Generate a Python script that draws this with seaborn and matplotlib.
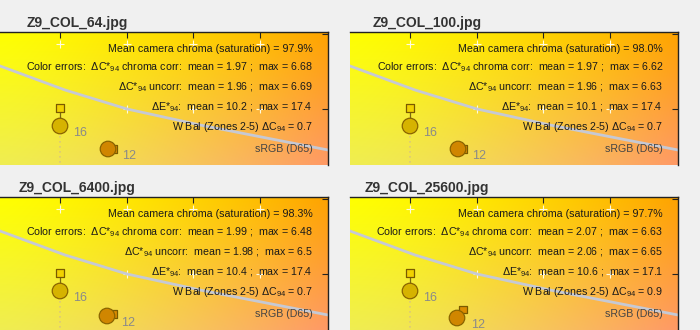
import numpy as np
import pandas as pd
import matplotlib
matplotlib.use("Agg")
import matplotlib.pyplot as plt
import seaborn as sns

sns.set_theme(style="white")
plt.rcParams['font.family'] = ['Liberation Sans', 'DejaVu Sans']
plt.rcParams['mathtext.fontset'] = 'custom'
plt.rcParams['mathtext.rm'] = 'Liberation Sans'
plt.rcParams['mathtext.it'] = 'Liberation Sans:italic'
plt.rcParams['mathtext.default'] = 'regular'

# ---------------- data ----------------
titles = ["Z9_COL_64.jpg", "Z9_COL_100.jpg", "Z9_COL_6400.jpg", "Z9_COL_25600.jpg"]
chroma_sat = ["97.9", "98.0", "98.3", "97.7"]
dc_corr_mean = ["1.97", "1.97", "1.99", "2.07"]
dc_corr_max = ["6.68", "6.62", "6.48", "6.63"]
dc_unc_mean = ["1.96", "1.96", "1.98", "2.06"]
dc_unc_max = ["6.69", "6.63", "6.5", "6.65"]
de_mean = ["10.2", "10.1", "10.4", "10.6"]
de_max = ["17.4", "17.4", "17.4", "17.1"]
wbal = ["0.7", "0.7", "0.7", "0.9"]

# gamut boundary (sRGB) in a*, b*
gamut_a = [-25, -18, 1.5, 20.1, 42.0, 80.4, 90]
gamut_b = [75.5, 72.9, 65.7, 60.0, 55.2, 47.7, 45.8]

# patch 16 and 12: ideal (square) and measured (circle), per panel
ideal16_a = [0.0, 0.0, 0.0, 0.0]
ideal16_b = [60.3, 60.3, 60.3, 60.3]
meas16_a = [0.0, 0.0, 0.0, 0.0]
meas16_b = [54.9, 54.9, 54.9, 54.9]
ideal12_a = [15.9, 15.9, 15.9, 15.9]
ideal12_b = [48.0, 48.0, 48.0, 49.3]
meas12_a = [14.4, 14.4, 14.1, 14.1]
meas12_b = [48.0, 48.0, 47.4, 46.8]
patch_labels = ["16", "12"]

grid_a = [0, 20, 40, 60]
grid_b = [79.5, 60]
xticks = [0, 20, 40, 60]
yticks = [60, 82.5]

XLIM = (-18.0, 80.4)
YLIM = (43.2, 83.1)

# ---------------- figure ----------------
W, H = 700, 330
fig = plt.figure(figsize=(7, 3.3), dpi=100)
fig.patch.set_facecolor("#f0f0f0")

panel_px = [(0, 32), (350, 32), (0, 197), (350, 197)]  # left, top in px
ax_w, ax_h = 328, 133

# gradient image
nu, nv = 200, 120
u = np.linspace(0, 1, nu)[None, :]
v = np.linspace(0, 1, nv)[:, None]
TL = np.array([1.0, 1.0, 0.0]); TR = np.array([1.0, 0.64, 0.0])
BL = np.array([0.94, 0.93, 0.32]); BR = np.array([1.0, 0.60, 0.40])
uu = (u ** 1.4)[..., None]
vv = v[..., None]
top = TL * (1 - uu) + TR * uu
bot = BL * (1 - uu) + BR * uu
img = bot * (1 - vv) + top * vv
img = np.clip(img, 0, 1)

def lines_for(i):
    return [
        f"Mean camera chroma (saturation) = {chroma_sat[i]}%",
        f"Color errors:  ΔC*$_{{94}}$ chroma corr:  mean = {dc_corr_mean[i]} ;  max = {dc_corr_max[i]}",
        f"ΔC*$_{{94}}$ uncorr:  mean = {dc_unc_mean[i]} ;  max = {dc_unc_max[i]}",
        f"ΔE*$_{{94}}$:  mean = {de_mean[i]} ;  max = {de_max[i]}",
        f"W Bal (Zones 2-5) ΔC$_{{94}}$ = {wbal[i]}",
    ]

line_offsets = [17, 35, 55, 75, 95]

for i, (lpx, tpx) in enumerate(panel_px):
    ax = fig.add_axes([lpx / W, 1 - (tpx + ax_h) / H, ax_w / W, ax_h / H])
    ax.imshow(img, extent=[XLIM[0], XLIM[1], YLIM[0], YLIM[1]], origin="lower",
              aspect="auto", zorder=0, interpolation="bilinear")

    # grid plus markers
    gp = pd.DataFrame([(a, b) for a in grid_a for b in grid_b], columns=["a", "b"])
    ax.scatter(gp["a"], gp["b"], marker="+", s=30, color="#fffbe0", linewidths=0.8, zorder=1)

    gdf = pd.DataFrame({"a": gamut_a, "b": gamut_b})
    sns.lineplot(data=gdf, x="a", y="b", ax=ax, color="#c6c9d4", lw=2.0, sort=False, zorder=2)

    # dotted line from patch 16 downward
    ax.plot([meas16_a[i], meas16_a[i]], [meas16_b[i], YLIM[0] - 5], ls=(0, (1, 2)),
            color="#dcc878", lw=1.2, zorder=2)
    # connector ideal->measured
    ax.plot([ideal16_a[i], meas16_a[i]], [ideal16_b[i], meas16_b[i]], color="#7a6a10",
            lw=0.9, zorder=3)
    ax.plot([ideal12_a[i], meas12_a[i]], [ideal12_b[i], meas12_b[i]], color="#7a5000",
            lw=0.9, zorder=3)

    sq = pd.DataFrame({"a": [ideal16_a[i], ideal12_a[i]], "b": [ideal16_b[i], ideal12_b[i]],
                       "p": patch_labels})
    sns.scatterplot(data=sq, x="a", y="b", hue="p", palette=["#f2d200", "#dc8c00"],
                    marker="s", s=30, edgecolor="#7a5a00", linewidth=0.9, ax=ax,
                    legend=False, zorder=4)
    ci = pd.DataFrame({"a": [meas16_a[i], meas12_a[i]], "b": [meas16_b[i], meas12_b[i]],
                       "p": patch_labels})
    sns.scatterplot(data=ci, x="a", y="b", hue="p", palette=["#d6b300", "#d08600"],
                    marker="o", s=125, edgecolor="#8a6400", linewidth=0.9, ax=ax,
                    legend=False, zorder=5)

    ax.text(meas16_a[i] + 6.15, meas16_b[i] - 2.1, patch_labels[0], color="#8a8a8a",
            fontsize=9, ha="center", va="center", zorder=6)
    ax.text(meas12_a[i] + 6.3, meas12_b[i] - 2.2 + (0.2 if i == 3 else 0.0), patch_labels[1],
            color="#8a8a8a", fontsize=9, ha="center", va="center", zorder=6)

    ax.set_xlim(*XLIM)
    ax.set_ylim(*YLIM)
    ax.set_xlabel("")
    ax.set_ylabel("")
    ax.set_xticks(xticks)
    ax.set_yticks(yticks)
    ax.xaxis.tick_top()
    ax.yaxis.tick_right()
    ax.tick_params(axis="both", direction="in", length=4, width=0.8, color="#222222",
                   labeltop=False, labelright=False, labelbottom=False, labelleft=False,
                   top=True, right=True, bottom=False, left=False)
    for s in ["left", "bottom"]:
        ax.spines[s].set_visible(False)
    for s in ["top", "right"]:
        ax.spines[s].set_visible(True)
        ax.spines[s].set_color("#222222")
        ax.spines[s].set_linewidth(1.0)

    # annotation texts (right-aligned)
    for off, txt in zip(line_offsets, lines_for(i)):
        fig.text((lpx + 313) / W, 1 - (tpx + off) / H, txt, ha="right", va="center",
                 fontsize=7.7, color="#1a1a1a")
    fig.text((lpx + 313) / W, 1 - (tpx + 117) / H, "sRGB (D65)", ha="right", va="center",
             fontsize=7.7, color="#444444")

    # title
    fig.text((lpx + 77) / W, 1 - (tpx - 9) / H, titles[i], ha="center", va="center",
             fontsize=10, fontweight="bold", color="#333333")

fig.savefig("out.png", dpi=100, facecolor=fig.get_facecolor())
